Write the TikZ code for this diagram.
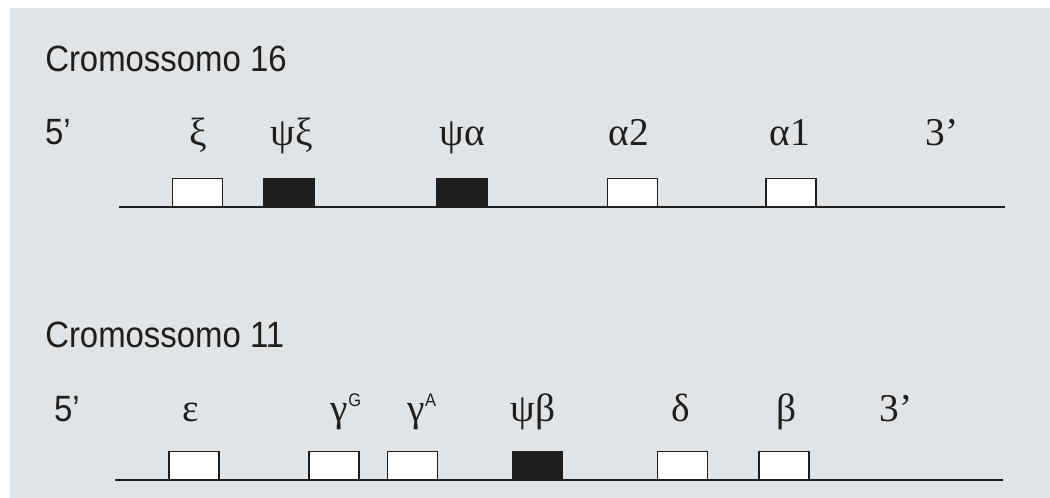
\documentclass[tikz,border=0pt]{standalone}
\usepackage{fontspec}
\setmainfont{Liberation Serif}
\newfontfamily\headfont[FakeStretch=0.9]{Liberation Sans}

\definecolor{panel}{HTML}{E1E4E6}
\definecolor{ink}{HTML}{1E1E1E}

\tikzset{
  gene/.style={draw=ink,line width=1pt,fill=white,minimum width=1.25cm,
    minimum height=0.7cm,inner sep=0pt,anchor=south},
  pseudo/.style={gene,fill=ink},
  sym/.style={anchor=base,inner sep=0pt,text=ink,font=\fontsize{28}{32}\selectfont},
  prime/.style={anchor=base,inner sep=0pt,text=ink,font=\headfont\fontsize{26}{30}\selectfont},
  title/.style={anchor=base west,inner sep=0pt,text=ink,font=\headfont\fontsize{26}{30}\selectfont},
  strand/.style={draw=ink,line width=1.4pt},
}
% small sans letter raised over a gamma
\newcommand{\gsup}[1]{\raisebox{10.5pt}{\headfont\fontsize{13}{13}\selectfont #1}}

\begin{document}
\begin{tikzpicture}[x=0.025cm,y=-0.025cm]

\fill[white] (0,0) rectangle (1050,498);
\fill[panel] (10,8) rectangle (1050,498);
\useasboundingbox (0,0) rectangle (1050,498);

% alpha cluster
\node[title] (t16) at (45,72) {Cromossomo 16};
\node[prime] (a5) at (58,145) {5’};
\node[sym] (lxi) at (198,146) {ξ};
\node[sym] (lpxi) at (292,146) {ψξ};
\node[sym] (lpa) at (462,146) {ψα};
\node[sym] (la2) at (629,146) {α2};
\node[sym] (la1) at (790,146) {α1};
\node[sym] (a3) at (942,146) {3’};

\coordinate (s16) at (119,207);
\coordinate (e16) at (1005,207);
\path [strand] (s16) -- (e16);

\node[gene] (xi) at (197.5,207) {};
\node[pseudo] (pxi) at (289,207) {};
\node[pseudo] (pa) at (462,207) {};
\node[gene] (a2) at (632.5,207) {};
\node[gene] (a1) at (791,207) {};

% beta cluster
\node[title] (t11) at (45,347) {Cromossomo 11};
\node[prime] (b5) at (67,421) {5’};
\node[sym] (leps) at (191,421) {ε};
\node[sym] (lgg) at (346,421) {γ\gsup{G}};
\node[sym] (lga) at (422,421) {γ\gsup{A}};
\node[sym] (lpb) at (533,421) {ψβ};
\node[sym] (ld) at (681,421) {δ};
\node[sym] (lb) at (787,421) {β};
\node[sym] (b3) at (896,421) {3’};

\coordinate (s11) at (115,480);
\coordinate (e11) at (1003,480);
\path [strand] (s11) -- (e11);

\node[gene] (eps) at (194,480) {};
\node[gene] (gg) at (334,480) {};
\node[gene] (ga) at (412.5,480) {};
\node[pseudo] (pb) at (537.5,480) {};
\node[gene] (d) at (682.5,480) {};
\node[gene] (b) at (784,480) {};

\end{tikzpicture}
\end{document}
